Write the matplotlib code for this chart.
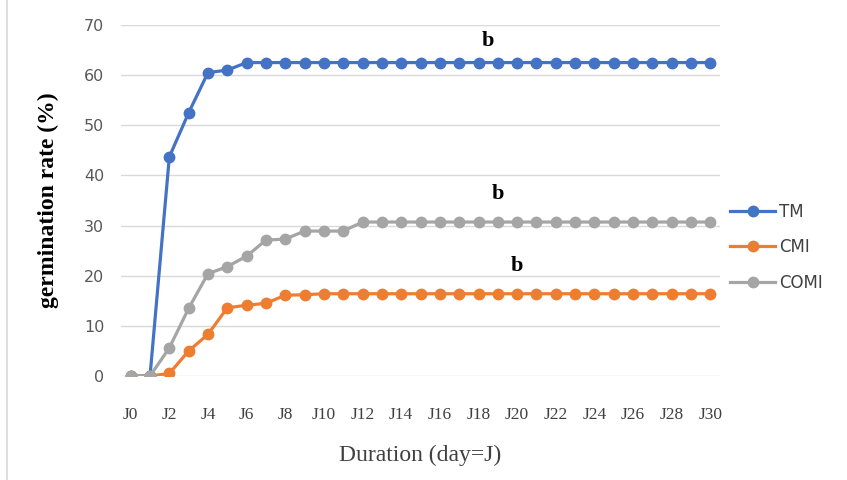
import numpy as np
import matplotlib.pyplot as plt
from matplotlib.patches import Rectangle

# Germination rate (%) per day, J0..J30
days = ['J%d' % d for d in range(31)]
tm = [0, 0, 43.7, 52.5, 60.5, 61.0] + [62.5] * 25
cmi = [0, 0, 0.5, 5.0, 8.3, 13.6, 14.1, 14.5, 16.1, 16.2] + [16.4] * 21
comi = [0, 0, 5.6, 13.5, 20.4, 21.8, 23.9, 27.1, 27.3, 28.9, 28.9, 28.9] + [30.7] * 19

# significance letters (day index, value)
letters = ['b', 'b', 'b']
letter_x = [18.5, 19.0, 20.0]
letter_y = [64.8, 34.3, 20.0]

fig = plt.figure(figsize=(8.47, 4.8), dpi=100)
ax = fig.add_axes([0.1429, 0.2167, 0.7072, 0.7313])

x = np.arange(len(days))
ax.plot(x, tm, color='#4472C4', lw=2.3, marker='o', ms=7.5, label='TM', zorder=3)
ax.plot(x, cmi, color='#ED7D31', lw=2.3, marker='o', ms=7.5, label='CMI', zorder=3)
ax.plot(x, comi, color='#A5A5A5', lw=2.3, marker='o', ms=7.5, label='COMI', zorder=3)

for t, lx, ly in zip(letters, letter_x, letter_y):
    ax.text(lx, ly, t, fontsize=16, fontweight='bold', family='Liberation Serif',
            ha='center', va='bottom')

ax.set_xlim(-0.5, 30.5)
ax.set_ylim(0, 70)
ax.set_yticks(np.arange(0, 71, 10))
ax.set_xticks(x[::2])
ax.set_xticklabels(days[::2], family='Liberation Serif', fontsize=12.5, color='#404040')
ax.tick_params(axis='y', labelsize=11.5, colors='#595959', length=0, pad=12)
ax.tick_params(axis='x', length=0, pad=22)
ax.grid(axis='y', color='#D9D9D9', lw=1)
ax.set_axisbelow(True)
for s in ax.spines.values():
    s.set_visible(False)

ax.set_xlabel('Duration (day=J)', family='Liberation Serif', fontsize=17,
              color='#404040', labelpad=16)
ax.set_ylabel('germination rate (%)', family='Liberation Serif', fontsize=17,
              fontweight='bold', labelpad=18)

ax.legend(loc='center left', bbox_to_anchor=(1.0, 0.367), frameon=False,
          fontsize=12, labelcolor='#404040', handlelength=2.7,
          labelspacing=1.05, handletextpad=0.25, borderaxespad=0.2)

fig.patches.append(Rectangle((0.008, -0.01), 1.0, 1.02, transform=fig.transFigure,
                             fill=False, edgecolor='#D9D9D9', lw=1.2))

fig.savefig('out.png', dpi=100)
